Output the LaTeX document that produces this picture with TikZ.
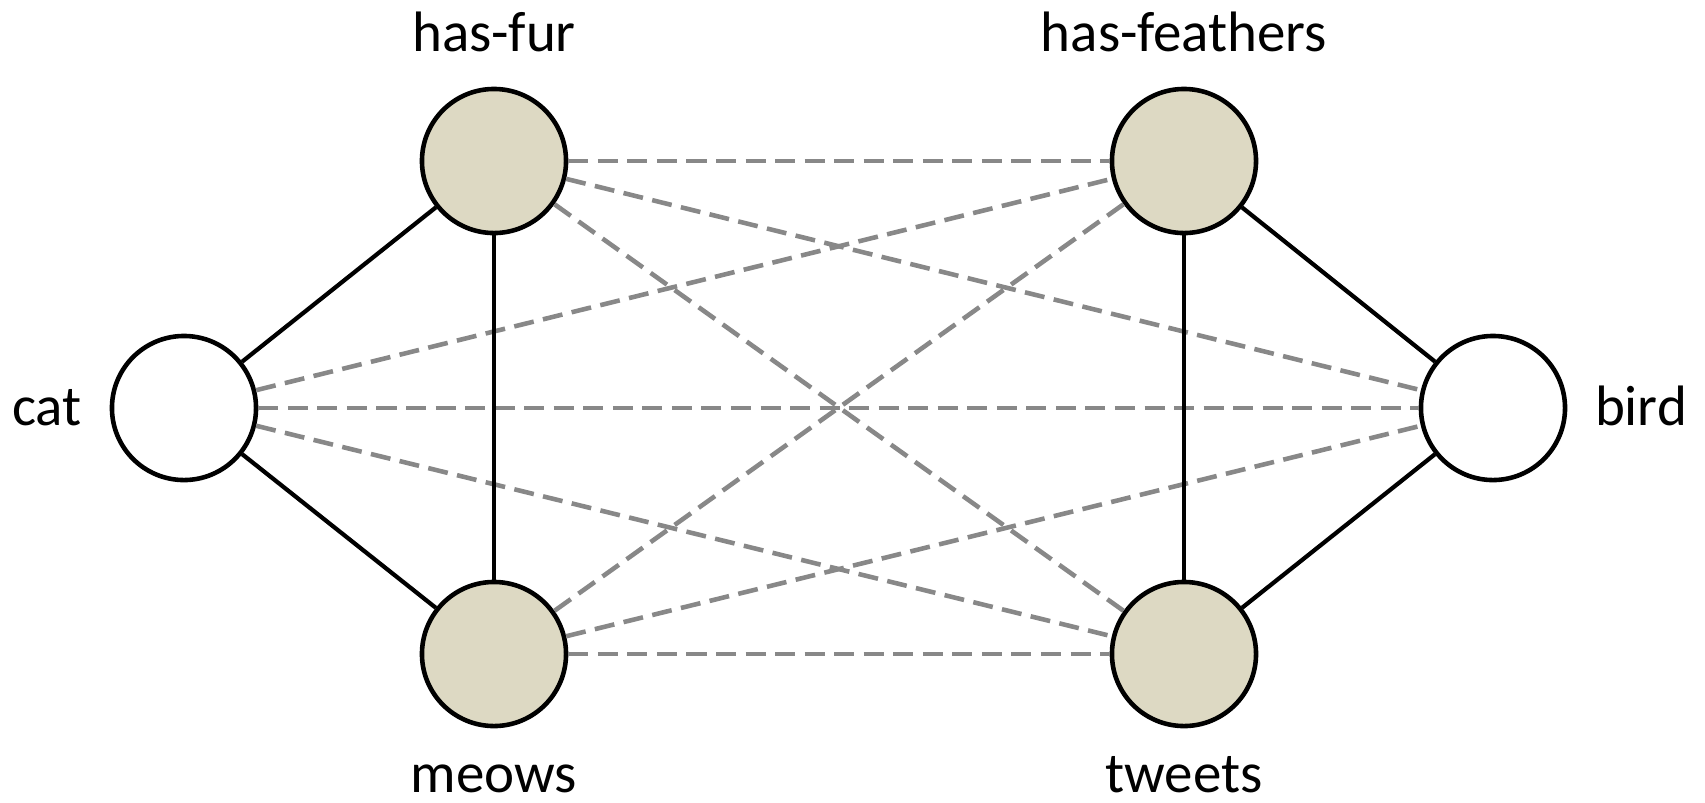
\documentclass[tikz,border=0pt]{standalone}
\usepackage{fontspec}
\setmainfont{Carlito}
\definecolor{featfill}{RGB}{221,217,195}
\definecolor{linkgray}{RGB}{136,136,136}

\begin{document}
\begin{tikzpicture}[x=0.01cm,y=-0.01cm]
\tikzset{objnode/.style = {circle, fill=white, draw=black, line width=1.3pt, minimum size=1.44cm, inner sep=0pt}}
\tikzset{featnode/.style = {objnode, fill=featfill}}
\tikzset{hardlink/.style = {draw=black, line width=1.2pt}}
\tikzset{softlink/.style = {draw=linkgray, line width=1.3pt, dash pattern=on 5.7pt off 2.7pt}}
\tikzset{lbl/.style = {anchor=base, inner sep=0pt, font=\fontsize{16.2}{19}\selectfont}}
\useasboundingbox (0,0) rectangle (1705,802);

    \node[objnode] (cat) at (184,408) {};
    \node[featnode] (hasfur) at (494,161) {};
    \node[featnode] (meows) at (494,654) {};
    \node[featnode] (hasfeathers) at (1184,161) {};
    \node[featnode] (tweets) at (1184,654) {};
    \node[objnode] (bird) at (1493,408) {};

% dashed links
\draw[softlink] (hasfur) -- (hasfeathers);
\draw[softlink] (hasfur) -- (bird);
\draw[softlink] (hasfur) -- (tweets);
\draw[softlink] (cat) -- (hasfeathers);
\draw[softlink] (cat) -- (bird);
\draw[softlink] (cat) -- (tweets);
\draw[softlink] (meows) -- (hasfeathers);
\draw[softlink] (meows) -- (bird);
\draw[softlink] (meows) -- (tweets);

% solid links
\draw[hardlink] (cat) -- (hasfur);
\draw[hardlink] (cat) -- (meows);
\draw[hardlink] (hasfur) -- (meows);
\draw[hardlink] (bird) -- (hasfeathers);
\draw[hardlink] (bird) -- (tweets);
\draw[hardlink] (hasfeathers) -- (tweets);

    \node[lbl] (catlbl) at (47,425) {cat};
    \node[lbl] (birdlbl) at (1641,425) {bird};
    \node[lbl] (hasfurlbl) at (494,51) {has-fur};
    \node[lbl] (hasfeatherslbl) at (1184,51) {has-feathers};
    \node[lbl] (meowslbl) at (494,792) {meows};
    \node[lbl] (tweetslbl) at (1184,792) {tweets};

\end{tikzpicture}
\end{document}
